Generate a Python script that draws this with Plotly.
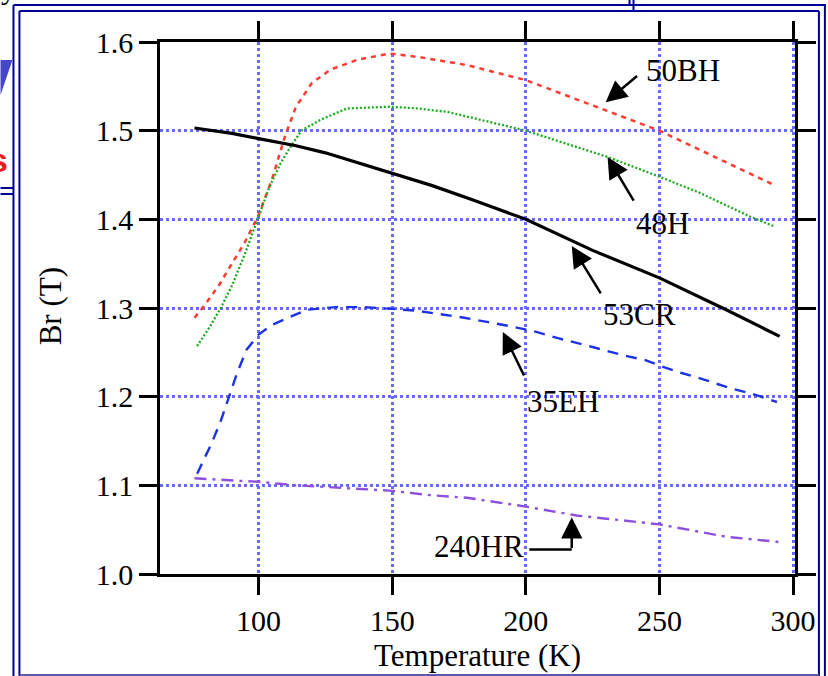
import plotly.graph_objects as go

# ---------------- data ----------------
t_50bh = [76, 80, 85, 90, 95, 100, 105, 110, 114, 120, 127, 137, 149, 160, 178, 200, 227, 250, 271, 292]
b_50bh = [1.289, 1.304, 1.325, 1.350, 1.375, 1.405, 1.445, 1.495, 1.527, 1.554, 1.569, 1.580, 1.587, 1.583, 1.574, 1.557, 1.526, 1.500, 1.470, 1.440]

t_48h = [77, 82, 86, 90, 95, 100, 104, 108, 112, 116, 123, 133, 149, 160, 171, 200, 231, 250, 265, 284, 293]
b_48h = [1.257, 1.280, 1.301, 1.325, 1.362, 1.403, 1.436, 1.462, 1.482, 1.500, 1.512, 1.525, 1.527, 1.525, 1.521, 1.500, 1.470, 1.448, 1.430, 1.403, 1.392]

t_53cr = [76, 90, 100, 114, 125, 140, 150, 165, 180, 200, 225, 250, 275, 295]
b_53cr = [1.503, 1.497, 1.491, 1.483, 1.475, 1.461, 1.452, 1.438, 1.422, 1.400, 1.365, 1.334, 1.298, 1.268]

t_35eh = [77, 82.5, 86, 89, 92, 95.5, 100, 105, 112, 118, 129, 139, 150, 159, 168, 177, 186, 195, 204, 212, 225, 236, 245, 251, 258, 267, 276, 286, 294]
b_35eh = [1.113, 1.148, 1.174, 1.200, 1.227, 1.253, 1.270, 1.281, 1.290, 1.298, 1.301, 1.301, 1.299, 1.297, 1.293, 1.289, 1.284, 1.279, 1.273, 1.266, 1.256, 1.247, 1.241, 1.234, 1.227, 1.219, 1.210, 1.202, 1.194]

t_240hr = [76, 85, 93, 100, 114, 126, 139, 149, 164, 178, 200, 219, 250, 275, 295]
b_240hr = [1.108, 1.106, 1.105, 1.104, 1.100, 1.098, 1.096, 1.094, 1.089, 1.086, 1.076, 1.066, 1.056, 1.042, 1.036]

x_ticks = [100, 150, 200, 250, 300]
x_tick_text = ["100", "150", "200", "250", "300"]
y_ticks = [1.0, 1.1, 1.2, 1.3, 1.4, 1.5, 1.6]
y_tick_text = ["1.0", "1.1", "1.2", "1.3", "1.4", "1.5", "1.6"]

labels = ["50BH", "48H", "53CR", "35EH", "240HR"]
label_pos = [(259, 1.568), (251, 1.395), (242.5, 1.293), (214, 1.195), (182.5, 1.031)]
# arrows: (tail_x, tail_y, tip_x, tip_y)
arrows = [(242.2, 1.563, 229.9, 1.532), (240.7, 1.4195, 230.6, 1.4703),
          (228.4, 1.3147, 217.2, 1.3699), (199.6, 1.2222, 191.4, 1.2729)]

# ---------------- layout geometry ----------------
W, H = 828, 676
L, R, T, B = 160, 31, 42, 102
PW, PH = W - L - R, H - T - B


def px(x):
    return (x - L) / PW


def py(y):
    return (H - B - y) / PH


FONT = "Liberation Serif, Times New Roman, serif"

fig = go.Figure()
fig.add_trace(go.Scatter(x=t_50bh, y=b_50bh, mode="lines", name="50BH",
                         line=dict(color="rgb(255,60,50)", width=2.5, dash="5px,5px")))
fig.add_trace(go.Scatter(x=t_48h, y=b_48h, mode="lines", name="48H",
                         line=dict(color="rgb(30,170,30)", width=2.3, dash="2px,2px")))
fig.add_trace(go.Scatter(x=t_53cr, y=b_53cr, mode="lines", name="53CR",
                         line=dict(color="black", width=3.2)))
fig.add_trace(go.Scatter(x=t_35eh, y=b_35eh, mode="lines", name="35EH",
                         line=dict(color="rgb(30,50,230)", width=2.4, dash="11px,8px")))
fig.add_trace(go.Scatter(x=t_240hr, y=b_240hr, mode="lines", name="240HR",
                         line=dict(color="rgb(140,80,220)", width=2.4, dash="12px,6px,3px,6px")))

annotations = []
for txt, (x, y) in zip(labels, label_pos):
    annotations.append(dict(x=x, y=y, xref="x", yref="y", text=txt, showarrow=False,
                            font=dict(family=FONT, size=31, color="black"),
                            xanchor="center", yanchor="middle"))
for (ax, ay, x, y) in arrows:
    annotations.append(dict(x=x, y=y, ax=ax, ay=ay, xref="x", yref="y", axref="x", ayref="y",
                            text="", showarrow=True, arrowhead=2, arrowsize=1.7,
                            arrowwidth=2.5, arrowcolor="black"))
# 240HR elbow arrow
annotations.append(dict(x=217.2, y=1.064, ax=217.2, ay=1.0275, xref="x", yref="y", axref="x", ayref="y",
                        text="", showarrow=True, arrowhead=2, arrowsize=1.7,
                        arrowwidth=2.5, arrowcolor="black"))

# axis titles
annotations.append(dict(x=0.5, y=py(655), xref="paper", yref="paper", text="Temperature (K)",
                        showarrow=False, font=dict(family=FONT, size=31, color="black"),
                        xanchor="center", yanchor="middle"))
annotations.append(dict(x=px(50), y=py(306), xref="paper", yref="paper", text="Br (T)",
                        textangle=-90, showarrow=False, font=dict(family=FONT, size=31, color="black"),
                        xanchor="center", yanchor="middle"))
# slide fragments at the left edge
annotations.append(dict(x=px(2), y=py(160), xref="paper", yref="paper", text="<b>s</b>",
                        showarrow=False, font=dict(family="Liberation Sans, Arial", size=34, color="rgb(230,30,30)"),
                        xanchor="right", yanchor="middle", xshift=8))
annotations.append(dict(x=px(0), y=py(-12), xref="paper", yref="paper", text="y",
                        showarrow=False, font=dict(family=FONT, size=30, color="black"),
                        xanchor="left", yanchor="middle", xshift=-2))

NAVY = "rgb(0,0,150)"
shapes = []


def seg(x0, y0, x1, y1, color=NAVY, width=2):
    shapes.append(dict(type="line", xref="paper", yref="paper",
                       x0=px(x0), y0=py(y0), x1=px(x1), y1=py(y1),
                       line=dict(color=color, width=width), layer="above"))


# double frame
seg(13, 5, 828, 5)
seg(19, 11, 821, 11)
seg(13, 5, 13, 676)
seg(19, 11, 19, 676)
seg(821, 11, 821, 676)
seg(827, 5, 827, 676)
seg(19, 675, 821, 675, color="rgb(90,90,180)")
seg(631, 0, 631, 5)
seg(635, 0, 635, 11)
seg(0, 188, 13, 188)
seg(0, 194, 13, 194)
# blue triangle fragment
shapes.append(dict(type="path", xref="paper", yref="paper",
                   path=f"M {px(0)},{py(60)} L {px(12)},{py(60)} L {px(0)},{py(95)} Z",
                   fillcolor="rgb(70,70,200)", line=dict(width=0), layer="above"))
# 240HR elbow horizontal segment
shapes.append(dict(type="line", xref="x", yref="y", x0=201.3, y0=1.0275, x1=217.2, y1=1.0275,
                   line=dict(color="black", width=2.5)))

axis_common = dict(showline=True, linecolor="black", linewidth=2.5, mirror="ticks",
                   ticks="outside", ticklen=18, tickwidth=2.5, tickcolor="black",
                   showgrid=True, gridcolor="rgb(105,105,255)", gridwidth=2.5, griddash="dot",
                   zeroline=False, tickfont=dict(family=FONT, size=30, color="black"))

fig.update_layout(
    width=W, height=H,
    margin=dict(l=L, r=R, t=T, b=B),
    paper_bgcolor="white", plot_bgcolor="white",
    showlegend=False,
    xaxis=dict(range=[63.1, 300.75], tickvals=x_ticks, ticktext=x_tick_text, **axis_common),
    yaxis=dict(range=[1.0, 1.6], tickvals=y_ticks, ticktext=y_tick_text, **axis_common),
    annotations=annotations,
    shapes=shapes,
)

fig.write_html("out.html", config={"displayModeBar": False},
               post_script="document.body.style.margin='0';document.body.style.overflow='hidden';")
